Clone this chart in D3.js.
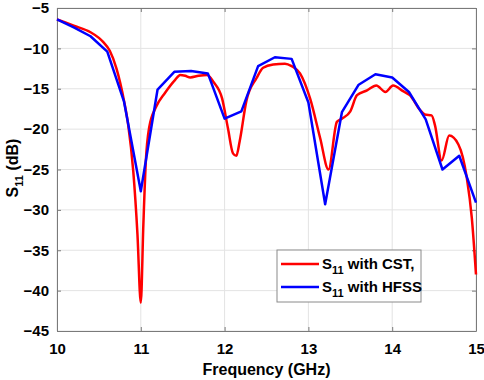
<!DOCTYPE html>
<html lang="en">
<head>
<meta charset="UTF-8">
<title>S11 vs Frequency</title>
<style>
  body { margin: 0; background: #fff; }
  svg { display: block; font-family: "Liberation Sans", Arial, sans-serif; font-weight: bold; }
</style>
</head>
<body>
<svg id="chart" width="484" height="380"></svg>
<script src="https://d3js.org/d3.v7.min.js"></script>
<script>
// CST curve (red)
const cstFreq = [10.0, 10.2, 10.4, 10.5, 10.55, 10.63, 10.71, 10.8, 10.85, 10.91, 10.96, 11.0, 11.03, 11.06, 11.1, 11.18, 11.29, 11.41, 11.47, 11.53, 11.59, 11.69, 11.79, 11.87, 11.97, 12.04, 12.1, 12.14, 12.18, 12.26, 12.38, 12.46, 12.58, 12.72, 12.8, 12.9, 13.02, 13.14, 13.24, 13.34, 13.4, 13.5, 13.58, 13.7, 13.81, 13.92, 14.01, 14.13, 14.21, 14.33, 14.39, 14.47, 14.51, 14.59, 14.68, 14.79, 14.89, 14.95, 15.0];
const cstS11 = [-6.4, -7.2, -8.0, -8.7, -9.2, -10.3, -12.5, -16.5, -19.5, -25.2, -33, -41.5, -32, -24, -19.8, -17.3, -15.5, -13.9, -13.3, -13.4, -13.6, -13.4, -13.3, -14.2, -16.2, -19.9, -23.0, -23.3, -21.5, -16.5, -13.7, -12.4, -12.0, -11.9, -12.2, -13.1, -16.2, -21.1, -25.0, -19.1, -18.7, -17.8, -15.8, -15.2, -14.6, -15.4, -14.6, -15.3, -15.8, -17.6, -18.2, -18.3, -19.5, -23.9, -20.8, -21.9, -26.0, -31, -38];

// HFSS curve (blue)
const hfssFreq = [10.0, 10.2, 10.4, 10.6, 10.8, 11.0, 11.2, 11.4, 11.6, 11.8, 12.0, 12.2, 12.4, 12.6, 12.8, 13.0, 13.2, 13.4, 13.6, 13.8, 14.0, 14.2, 14.4, 14.6, 14.8, 15.0];
const hfssS11 = [-6.4, -7.4, -8.5, -10.4, -16.6, -27.7, -15.1, -12.9, -12.8, -13.1, -18.7, -17.8, -12.2, -11.1, -11.3, -16.7, -29.3, -17.9, -14.5, -13.2, -13.6, -15.4, -18.8, -25.0, -23.3, -29.1];

const xTicks = [10, 11, 12, 13, 14, 15];
const yTicks = [-45, -40, -35, -30, -25, -20, -15, -10, -5];

const svg = d3.select("#chart");
const plotL = 57, plotR = 476, plotT = 8, plotB = 331;

const x = d3.scaleLinear().domain([10, 15]).range([plotL, plotR]);
const y = d3.scaleLinear().domain([-45, -5]).range([plotB, plotT]);

// grid
svg.append("g").selectAll("line").data(xTicks).join("line")
  .attr("x1", d => x(d)).attr("x2", d => x(d))
  .attr("y1", plotT).attr("y2", plotB)
  .attr("stroke", "#e3e3e3").attr("stroke-width", 1);
svg.append("g").selectAll("line").data(yTicks).join("line")
  .attr("x1", plotL).attr("x2", plotR)
  .attr("y1", d => y(d)).attr("y2", d => y(d))
  .attr("stroke", "#e3e3e3").attr("stroke-width", 1);

// axes (ticks inward, box)
const axisColor = "#7a7a7a";
function styleAxis(g) {
  g.select(".domain").attr("stroke", axisColor);
  g.selectAll(".tick line").attr("stroke", axisColor);
  g.selectAll(".tick text").attr("fill", "#000").attr("font-size", 15).attr("font-weight", "bold")
    .attr("font-family", "Liberation Sans, Arial, sans-serif");
}
svg.append("g").attr("transform", `translate(0,${plotB})`)
  .call(d3.axisBottom(x).tickValues(xTicks).tickFormat(d3.format("d"))
    .tickSizeInner(-4).tickSizeOuter(0).tickPadding(12))
  .call(styleAxis);
svg.append("g").attr("transform", `translate(0,${plotT})`)
  .call(d3.axisTop(x).tickValues(xTicks).tickSizeInner(-4).tickSizeOuter(0).tickFormat(""))
  .call(styleAxis);
svg.append("g").attr("transform", `translate(${plotL},0)`)
  .call(d3.axisLeft(y).tickValues(yTicks).tickFormat(d3.format("d"))
    .tickSizeInner(-4).tickSizeOuter(0).tickPadding(8))
  .call(styleAxis);
svg.append("g").attr("transform", `translate(${plotR},0)`)
  .call(d3.axisRight(y).tickValues(yTicks).tickSizeInner(-4).tickSizeOuter(0).tickFormat(""))
  .call(styleAxis);

// curves
const line = d3.line().x(d => x(d[0])).y(d => y(d[1]));
svg.append("path")
  .datum(cstFreq.map((f, i) => [f, cstS11[i]]))
  .attr("d", line.curve(d3.curveMonotoneX))
  .attr("fill", "none").attr("stroke", "#ff0000").attr("stroke-width", 2.5)
  .attr("stroke-linejoin", "round");
svg.append("path")
  .datum(hfssFreq.map((f, i) => [f, hfssS11[i]]))
  .attr("d", line.curve(d3.curveLinear))
  .attr("fill", "none").attr("stroke", "#0000ff").attr("stroke-width", 2.5)
  .attr("stroke-linejoin", "round");

// axis labels
svg.append("text").attr("x", (plotL + plotR) / 2).attr("y", 375)
  .attr("text-anchor", "middle").attr("font-size", 16).text("Frequency (GHz)");

const yl = svg.append("text").attr("transform", "translate(18,168) rotate(-90)")
  .attr("text-anchor", "middle").attr("font-size", 16);
yl.append("tspan").text("S");
yl.append("tspan").attr("font-size", 11).attr("dy", 5).text("11");
yl.append("tspan").attr("dy", -5).text(" (dB)");

// legend
const legend = svg.append("g");
legend.append("rect").attr("x", 277).attr("y", 250).attr("width", 144).attr("height", 52)
  .attr("fill", "#fff").attr("stroke", "#8a8a8a").attr("stroke-width", 1);
const legendItems = [
  { name: " with CST,", color: "#ff0000" },
  { name: " with HFSS", color: "#0000ff" }
];
legendItems.forEach((d, i) => {
  const ly = 264 + i * 23;
  legend.append("line").attr("x1", 281).attr("x2", 319).attr("y1", ly).attr("y2", ly)
    .attr("stroke", d.color).attr("stroke-width", 2.5);
  const t = legend.append("text").attr("x", 322).attr("y", ly + 5).attr("font-size", 15);
  t.append("tspan").text("S");
  t.append("tspan").attr("font-size", 11).attr("dy", 5).text("11");
  t.append("tspan").attr("dy", -5).text(d.name);
});
</script>
</body>
</html>
